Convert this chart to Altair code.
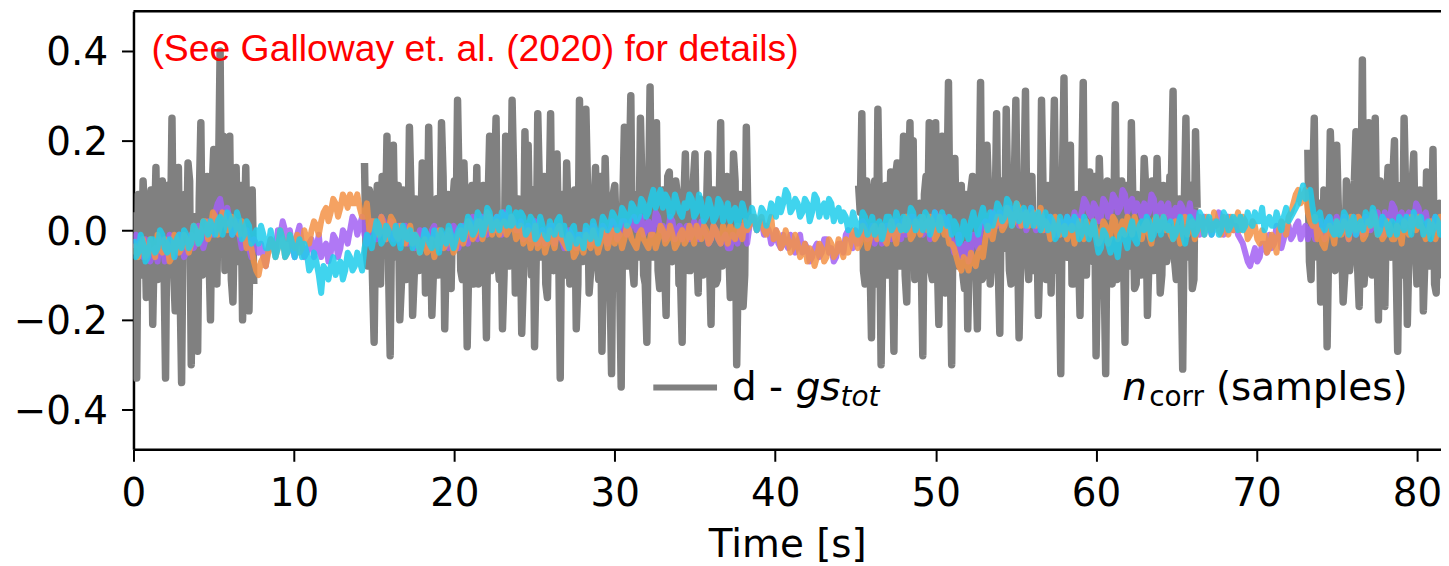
import altair as alt
import pandas as pd
import numpy as np

# ---------------- data (values in hundredths) ----------------
# coloured n_corr series: main samples at 0.3*i, mid samples at 0.15 + 0.3*i
COL_DT = 0.3
cyan = [-2,-5,-3,-6,-2,-4,-1,-5,-3,-2, -4,-1,-3,0,-2,1,2,-1,3,1, 3,0,2,-1,1,-2,-3,-1,-4,-3,
        -4,-2,-5,-3,-4,-6,-5,-8,-7,-14, -9,-8,-10,-7,-9,-6,-8,-7,-4,-2, -1,1,-2,0,-3,-1,1,-2,-4,-2,
        -3,-1,-4,-2,0,-3,-1,-2,1,0, 2,0,3,1,4,2,0,3,5,2, 1,3,0,2,-1,1,-2,0,2,-1,
        -2,0,-3,-1,1,-2,0,-1,2,1, 3,1,4,2,5,3,6,4,9,7, 5,7,4,6,3,5,7,4,6,3,
        5,3,6,4,2,5,3,4,2,3, 2,4,3,5,7,6,8,5,6,4, 6,4,7,5,3,6,4,2,3,1,
        2,0,3,1,-1,2,0,3,1,2, 3,1,4,2,0,3,1,2,4,1, -1,1,-2,0,2,1,3,2,4,3,
        5,3,6,4,2,5,3,1,4,2, 0,2,-1,1,3,0,2,-1,1,0, -2,-4,-1,-5,-3,-1,-2,0,-2,1,
        0,2,-1,1,3,0,-2,1,-1,0, 2,0,3,1,-1,2,0,3,1,2, 3,1,2,4,2,0,3,1,2,3,
        2,4,6,10,8,5,3,1,2,0, 2,0,3,1,-1,2,4,1,3,0, 2,-1,1,3,0,2,4,1,-1,2, 0,2,1]
cyan_mid = [-6,-1,-7,-2,-5,0,-4,-2,-6,-1, 0,-4,1,-3,2,-1,0,2,-1,4, -1,4,-2,2,-3,0,1,-4,0,-6,
            0,-6,-1,-6,-2,-3,-9,-5,-10,-8, -11,-6,-8,-11,-5,-9,-5,-9,-1,-4, 2,-3,1,-2,1,-4,-1,0,-1,-5,
            0,-3,0,-5,-2,1,-4,0,-2,3, -1,4,-1,5,0,3,4,1,1,4, 4,-1,3,-2,3,-1,2,-1,3,1,
            -4,1,-1,-4,0,2,-3,3,0,4, 0,5,1,6,2,7,3,7,5,9, 8,3,8,4,6,8,3,8,2,7,
            2,7,2,6,4,1,6,1,5,0, 5,1,6,3,4,9,4,7,3,7, 2,8,3,6,7,2,5,4,0,4,
            -1,4,-1,3,1,-2,3,0,4,0, 0,5,0,3,4,-1,4,0,2,3, 2,-3,2,-2,4,-1,5,0,1,6,
            2,7,1,6,4,1,5,3,0,4, 3,-2,3,-1,1,3,-2,3,-2,2, -5,0,-3,-2,-6,0,-4,2,-3,2,
            3,-2,3,-1,1,2,-1,3,-3,3, -1,4,-1,3,1,-1,4,0,3,0, 0,4,1,2,5,2,1,4,0,5,
            3,5,8,7,9,2,4,0,3,-1, -1,4,-1,3,1,0,3,5,-1,3, 1,2,-1,2,3,-1,2,3,1,-2, 3,-1]
orange = [-3,-6,-2,-5,-4,-1,-5,-3,-6,-2, -4,-2,-3,0,-1,2,0,3,1,2, 1,2,-1,0,-3,-7,-10,-6,-5,-3,
          -4,-2,-5,-3,-1,-4,-2,0,1,2, 5,4,6,5,7,8,6,5,3,0, 2,-1,1,0,2,-2,0,-1,-3,-2,
          -3,-5,-2,-4,-1,-3,-2,-4,0,-1, 1,-1,2,0,3,1,-1,2,0,1, -1,-3,0,-2,-4,-1,-3,-2,0,-2,
          -4,-2,-5,-3,-1,-4,-2,-3,-1,-2, -3,-1,-2,0,-3,-1,-2,-4,-1,-2, 0,-2,-1,-3,0,-2,-1,1,-2,0,
          -2,0,-3,-1,1,-2,0,2,1,3, 2,0,1,-2,-1,-3,-2,-4,-3,-5, -7,-5,-6,-4,-6,-3,-5,-4,-2,-3,
          -1,-3,0,-2,1,-1,-2,0,-1,1, 0,2,-1,1,3,0,2,-1,1,0, -3,-6,-9,-7,-5,-8,-4,-2,0,1,
          3,1,4,2,5,3,1,4,2,0, 1,-1,2,0,-2,1,-1,0,2,-1, 0,-2,1,-1,2,0,-1,1,3,0,
          1,-1,2,0,3,1,-2,0,1,-1, 2,0,1,3,0,2,-1,1,3,2, 0,2,-1,1,-3,-1,-4,-2,0,1,
          3,6,9,7,4,1,-2,-3,-1,0, 2,-1,1,3,0,2,-1,1,3,0, -1,1,-2,0,2,-1,1,3,0,-1, 1,0,2]
orange_mid = [-5,-3,-6,-2,-6,-4,-2,-7,-1,-5, -1,-5,1,-3,2,-2,4,-1,4,0, 3,0,2,-4,-4,-9,-7,-8,-2,-6,
              0,-6,-1,-4,-5,0,-3,2,-1,4, 2,7,3,8,5,6,8,3,6,2, 0,3,-2,3,-1,1,-3,1,-1,-5,
              -2,-4,-6,0,-4,0,-5,-1,-3,2, -2,2,-2,4,-1,2,1,-1,3,-2, 1,-2,-4,1,-3,-5,0,-4,1,-3,
              -1,-6,-2,-5,-3,0,-5,0,-4,0, 0,-4,1,-2,-4,0,-3,-1,-4,1, -3,1,-4,-1,-3,1,-3,-1,1,-3,
              1,-2,1,-3,-1,1,-2,0,3,0, 3,-1,3,0,-4,0,-5,-1,-6,-3, -4,-8,-3,-7,-2,-6,-2,-6,-5,0,
              -4,1,-4,0,-2,1,-3,2,-3,0, 3,-2,2,-1,1,3,-2,3,-1,-3, -4,-8,-6,-9,-7,-5,-6,1,-2,3,
              0,5,1,6,1,4,3,1,5,2, -2,3,-1,1,0,-3,2,-2,0,2, -3,2,-3,3,-2,2,3,-1,1,-2,
              2,-3,3,1,0,-1,2,-3,3,1, -2,3,-1,1,4,0,3,-1,0,4, 3,-2,2,-2,0,-5,-1,-5,2,-1,
              4,8,6,9,2,3,0,-4,1,-3, 0,2,-2,1,3,-2,2,4,-1,-2, 2,-2,1,-3,1,3,0,1,-2,2, -2,3]
purple = [-4,-2,-6,-3,-5,-7,-3,-5,-2,-4, -3,-5,-1,-3,0,-2,1,4,7,3, 2,0,-1,-3,-4,-2,-5,-6,-4,-3,
          0,2,-2,-4,-1,-3,-5,-2,-4,-6, -3,-5,-2,-4,-1,0,2,1,-1,0, 1,-1,2,0,-2,1,-1,-3,-1,-2,
          -1,-3,0,-2,-4,-1,-3,0,-2,-1, 0,2,-1,1,3,0,2,4,1,2, 0,-2,1,-1,-3,0,-2,1,-1,-2,
          -3,-1,-4,-2,0,-3,-1,-2,0,-1, 1,-1,2,0,3,1,-1,2,0,3, 1,-1,2,0,-2,1,-1,0,2,-1,
          -2,0,-3,-1,-4,-2,0,-1,1,2, 1,-1,0,-2,-3,-1,-4,-2,-3,-5, -4,-6,-3,-5,-2,-4,-6,-3,-1,-2,
          0,-2,1,-1,-3,0,-2,1,-1,0, 2,0,3,1,-1,2,0,3,1,2, -2,-4,-6,-3,-5,-2,0,2,1,3,
          4,2,5,3,1,4,2,3,1,2, 0,2,-1,1,3,0,2,4,6,3, 5,3,6,4,7,5,8,6,4,5,
          6,4,7,5,3,6,4,2,5,3, 1,3,0,2,-1,1,3,0,2,1, -2,-5,-8,-4,-6,-3,-1,-3,0,-2,
          1,-1,2,0,-2,1,-1,0,2,1, 3,1,0,2,-1,1,3,0,2,1, 4,2,5,3,1,4,2,5,3,1, 2,0,3]
purple_mid = [-1,-5,-2,-7,-4,-2,-7,-1,-6,-1, -6,-2,-4,1,-4,2,-1,6,4,5, -1,2,-4,0,-6,-3,-3,-8,-2,-5,
              -1,0,0,-6,1,-6,-3,-6,-1,-4, -7,-1,-6,0,-3,3,-1,3,-3,2, -2,3,-2,2,-1,-3,1,-2,-4,0,
              0,-4,1,-4,-2,-4,1,-4,1,-3, 3,-2,3,-1,2,3,-1,3,3,0, 2,-1,-2,2,-1,-3,1,-3,0,-4,
              0,-3,-1,-4,-2,1,-3,1,-3,2, -2,2,-1,2,0,3,1,-1,4,0, -2,3,-2,1,0,-2,2,-2,0,-3,
              1,-2,-2,-4,-1,-3,1,-3,3,0, 2,1,-3,0,-4,-3,-1,-5,-1,-3, -7,-4,-6,-2,-5,-7,-3,-5,0,-4,
              -3,2,-2,1,-1,-3,1,-2,2,-2, -1,3,0,2,1,-2,4,0,3,-1, -5,-1,-5,-7,-1,-4,1,-1,4,1,
              1,5,2,4,3,0,5,0,4,0, 3,-1,2,-1,2,4,1,7,4,6, 2,7,3,8,4,9,4,7,6,3,
              3,8,3,6,5,2,5,6,2,6, 4,-1,3,1,2,4,-1,3,0,-1, -3,-7,-6,-7,-3,-5,-4,1,-4,0,
              -2,1,-2,1,0,-2,2,-2,3,-1, 0,3,-2,3,0,-1,2,1,4,-1, 1,6,2,4,3,1,6,2,4,0, 3,1]

# gray residual d - gs_tot, four observed segments.
# "pk" samples at start + 0.2*i, "md" samples at start + 0.1 + 0.2*i
gray_starts = [0.0, 14.4, 45.2, 73.2]
gray_pk1 = [4,-33,2,11,-15,6,-21,14,-8,11,-33,5,25,-18,14,-34,8,15,-30,3,-27,24,-6,12,-20,18,-12,40,
            21,-8,21,-16,14,-5,-20,14,-18,9]
gray_md1 = [-6,8,-10,3,-4,9,-2,-11,5,-7, 10,-3,-9,6,-12,4,-5,11,-8,2, 7,-10,5,-4,9,-6,12,-3,-9,6,
            -11,4,-7,10,-2,-8,5,-12]
gray_pk2 = [15,-8,6,-25,10,-12,4,21,-28,19,-6,-20,9,-11,23,-19,7,-9,15,-14,23,-19,5,-10,24,-22,8,-13,
            11,29,-9,15,-26,6,-12,14,-7,10,-24,21,-5,25,-11,-22,21,-8,29,-14,7,-23,22,19,-10,-26,26,
            -6,12,-15,26,-9,17,-33,8,15,-12,5,-22,29,-7,27,-14,9,14,-11,-27,16,-5,-32,10,-13,-35,23,
            -8,30,-12,8,25,-10,-25,32,-6,24,-13,9,-19,13,-7,11,-12,-25,17,-9,6,17,-14,5,-8,17,-21,9,
            -11,24,-6,12,-15,17,-30,8,-17,23]
gray_md2 = [-5,9,-11,4,-7,12,-2,-9,6,-4, 10,-12,3,-6,8,-10,5,-3,11,-8, 2,-9,7,-5,12,-4,-10,6,-2,9,
            -11,3,-7,10,-5,-12,8,-3,6,-9, 11,-6,2,-10,7,-4,12,-8,3,-11, 5,-2,9,-7,10,-5,-12,4,-8,11,
            -3,6,-10,2,-6,9,-12,7,-4,10, -9,3,-5,12,-7,1,-11,8,-2,-10, 6,-4,11,-8,3,-6,9,-12,5,-2,
            10,-9,4,-7,12,-5,-3,8,-11,6, -1,-9,11,-4,7,-10,2,-6,9,-12, 4,-8,10,-3,-5,11,-7,6,-10,3]
gray_pk3 = [10,26,-12,5,-24,11,27,-30,7,-10,13,-27,15,-8,21,-16,24,20,-9,6,-28,12,24,-11,24,-21,21,
            -14,33,-30,16,-8,10,-13,-22,9,-6,-22,33,-10,19,-12,8,26,-23,11,27,-9,14,29,-24,6,31,-11,
            12,-7,-19,29,-5,10,-14,29,-9,-32,34,-6,19,-12,8,-19,33,-10,13,-7,-28,16,-8,-32,9,-12,28,
            -6,11,-25,7,24,-13,8,-10,16,-19,6,-9,16,-14,10,-7,12,31,-11,7,-31,25,-6,-13,22]
gray_md3 = [4,-9,11,-5,7,-12,3,-6,10,-2, -8,12,-4,6,-10,9,-3,-11,5,-7, 8,-1,-9,11,-6,4,-12,7,-3,10,
            -5,2,-10,8,-4,12,-7,5,-11,3, 9,-6,1,-8,11,-4,6,-12,10,-2, -7,9,-5,12,-9,3,-6,8,-11,4,
            10,-3,-8,11,-5,7,-12,2,-4,9, -10,6,-2,12,-7,4,-9,11,-6,1, -11,8,-3,10,-8,5,-12,7,-1,9,
            -6,11,-4,3,-10,8,-5,12,-7,2, -9,6,-3,10,-11,5]
gray_pk4 = [18,-11,25,-6,-16,9,-26,22,-8,19,-5,-16,11,-9,6,22,-17,38,-7,24,-10,25,-20,8,-17,14,-6,
            20,-27,10,25,-21,7,17,-12,9,-18,13,-8,18,-14,6,-10]
gray_md4 = [-7,10,-4,6,-11,8,-3,12,-9,5, -2,-10,7,-5,11,-8,3,-12,9,-6, 4,-1,11,-9,6,-4,12,-7,2,-10,
            8,-5,10,-3,-11,7,-6,9,-2,-12, 5,-8,4]
gray_pk = [gray_pk1, gray_pk2, gray_pk3, gray_pk4]
gray_md = [gray_md1, gray_md2, gray_md3, gray_md4]

# texts
annotation = "(See Galloway et. al. (2020) for details)"
x_ticks = [0, 10, 20, 30, 40, 50, 60, 70, 80]
y_ticks = [-0.4, -0.2, 0.0, 0.2, 0.4]

# ---------------- tables ----------------
def col_df(main, mid):
    t1 = COL_DT * np.arange(len(main))
    t2 = COL_DT / 2 + COL_DT * np.arange(len(mid))
    d = pd.DataFrame({"t": np.round(np.concatenate([t1, t2]), 3),
                      "v": np.concatenate([np.array(main), np.array(mid)]) / 100.0})
    return d.sort_values("t").reset_index(drop=True)

rows = []
for k, (s, pk, md) in enumerate(zip(gray_starts, gray_pk, gray_md)):
    t1 = s + 0.2 * np.arange(len(pk))
    t2 = s + 0.1 + 0.2 * np.arange(len(md))
    d = pd.DataFrame({"t": np.round(np.concatenate([t1, t2]), 3),
                      "v": np.concatenate([np.array(pk), np.array(md)]) / 100.0})
    d["seg"] = k
    rows.append(d.sort_values("t"))
df_gray = pd.concat(rows, ignore_index=True)

W, H = 1313, 440
FONT = "DejaVu Sans"
FS = 39

xs = alt.X("t:Q", scale=alt.Scale(domain=[0, 81.5], nice=False, zero=False),
           axis=alt.Axis(values=x_ticks, format="d", title="Time [s]", grid=False,
                         labelFont=FONT, labelFontSize=FS, labelColor="black", labelPadding=13,
                         titleFont=FONT, titleFontSize=FS, titleFontWeight="normal", titleColor="black",
                         titlePadding=13, tickSize=12, tickWidth=2, tickColor="black",
                         domainColor="black", domainWidth=2.5, labelFlush=False))
ys = alt.Y("v:Q", scale=alt.Scale(domain=[-0.489, 0.489], nice=False, zero=False),
           axis=alt.Axis(values=y_ticks, format=".1f", title=None, grid=False,
                         labelFont=FONT, labelFontSize=FS, labelColor="black", labelPadding=14,
                         labelOffset=2, tickSize=12, tickWidth=2, tickColor="black",
                         domainColor="black", domainWidth=2.5, labelFlush=False))

gray = alt.Chart(df_gray).mark_line(color="#808080", strokeJoin="round", clip=True).encode(
    x=xs, y=ys, detail="seg:N", order="t:Q", strokeWidth=alt.value(7.5))

def col_line(main, mid, color):
    return alt.Chart(col_df(main, mid)).mark_line(color=color, opacity=0.85, strokeJoin="round",
                                                  clip=True).encode(x=xs, y=ys, order="t:Q",
                                                                    strokeWidth=alt.value(6))

l_purple = col_line(purple, purple_mid, "#a260f3")
l_orange = col_line(orange, orange_mid, "#f39247")
l_cyan = col_line(cyan, cyan_mid, "#1ecdeb")

top_border = alt.Chart(pd.DataFrame({"a": [0]})).mark_rule(color="black").encode(
    x=alt.value(0), x2=alt.value(W), y=alt.value(0), strokeWidth=alt.value(2.5))

def txt(s, x, y, size=FS, style="normal", font=FONT, color="black"):
    return alt.Chart(pd.DataFrame({"s": [s]})).mark_text(
        align="left", baseline="alphabetic", font=font, fontSize=size, fontStyle=style,
        color=color).encode(x=alt.value(x), y=alt.value(y), text="s:N")

ann = txt(annotation, 18, 50, size=37.5, font="Liberation Sans", color="#ff0000")
leg_line = alt.Chart(pd.DataFrame({"a": [0]})).mark_rule(color="#808080").encode(
    x=alt.value(522), x2=alt.value(586), y=alt.value(378), strokeWidth=alt.value(6))
t_d = txt("d - ", 601, 390)
t_gs = txt("gs", 665, 390, style="italic")
t_tot = txt("tot", 710, 396, size=28, style="italic")
t_n = txt("n", 993, 390, style="italic")
t_corr = txt("corr", 1020, 396, size=28)
t_samp = txt("(samples)", 1087, 390)

chart = alt.layer(gray, l_purple, l_orange, l_cyan, top_border, ann, leg_line,
                  t_d, t_gs, t_tot, t_n, t_corr, t_samp).properties(
    width=W, height=H,
    autosize=alt.AutoSizeParams(type="none"),
    padding={"left": 126, "top": 2, "right": 0, "bottom": 116},
).configure_view(stroke=None).configure(background="white")

chart.save("out.html", embed_options={"renderer": "svg", "actions": False})
